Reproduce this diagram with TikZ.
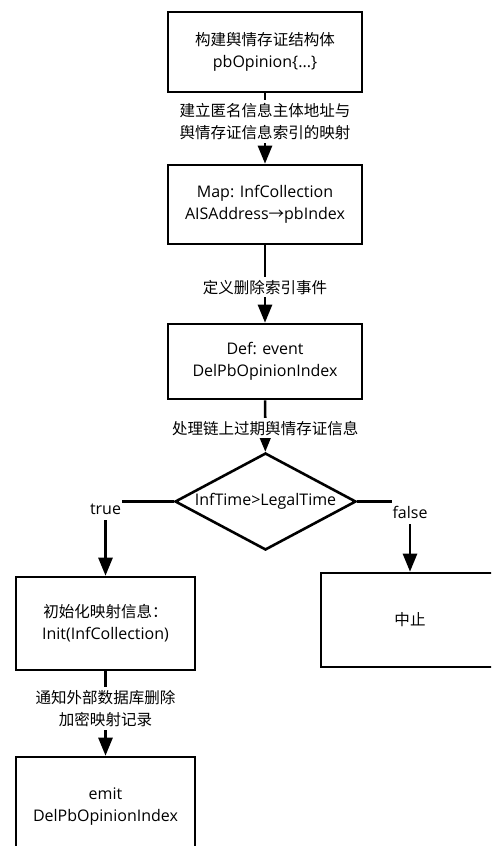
\documentclass[tikz,border=0pt]{standalone}
\usepackage{fontspec}
\setmainfont{Open Sans}
\newfontfamily\cjk[Scale=0.97]{Noto Sans CJK SC}
\usetikzlibrary{shapes.geometric,arrows.meta}

\begin{document}
\begin{tikzpicture}
  [x=1pt,y=-1pt,
   font=\fontsize{16}{22}\selectfont,
   procN/.style={rectangle,draw,line width=2.6pt,inner sep=0pt,align=center,minimum width=194pt},
   decN/.style={diamond,draw,line width=2.6pt,inner sep=-2pt,aspect=1.87,minimum width=181pt,minimum height=97pt},
   lblN/.style={fill=white,align=center,inner xsep=1pt,inner ysep=3pt,font=\fontsize{16}{22}\selectfont\cjk},
   tfN/.style={fill=white,inner xsep=1pt,inner ysep=1pt,text height=17pt,text depth=4pt,anchor=north},
   flow/.style={line width=2.6pt,-{Triangle[length=18pt,width=14pt]}}]

  \useasboundingbox (0,0) rectangle (491,846);
  \clip (0,0) rectangle (491,846);

  \node[procN,minimum height=80pt] (build) at (265,52) {{\cjk 构建舆情存证结构体}\\pbOpinion\{...\}};
  \node[procN,minimum height=79pt] (map) at (265,204.5) {Map: InfCollection\\AISAddress{\cjk →}pbIndex};
  \node[procN,minimum height=75pt] (def) at (265,361.5) {Def: event\\DelPbOpinionIndex};
  \node[decN] (chk) at (265.5,501.5) {InfTime>LegalTime};

  \node[procN,minimum width=179pt,minimum height=93pt] (init) at (105.5,623.5) {{\cjk 初始化映射信息：}\\Init(InfCollection)};
  \node[procN,minimum width=178pt,minimum height=94pt] (stop) at (410,620) {\cjk 中止};
  \node[procN,minimum width=179pt,minimum height=100pt] (emit) at (105.5,807) {emit\\DelPbOpinionIndex};

  % main chain
  \draw[flow] (build) -- node[lblN,pos=0.4] {建立匿名信息主体地址与\\舆情存证信息索引的映射} (map);
  \draw[flow] (map) -- node[lblN,pos=0.54] {定义删除索引事件} (def);
  \draw[flow] (def) -- node[lblN,pos=0.54] {处理链上过期舆情存证信息} (chk);

  % branches
  \draw[flow] (chk.west) -| node[tfN,pos=0.5,yshift=6pt] {true} (init.north);
  \draw[flow] (chk.east) -| node[tfN,pos=0.5,yshift=5pt,text height=20pt] {false} (stop.north);

  \draw[flow] (init) -- node[lblN,pos=0.44] {通知外部数据库删除\\加密映射记录} (emit);

\end{tikzpicture}
\end{document}
